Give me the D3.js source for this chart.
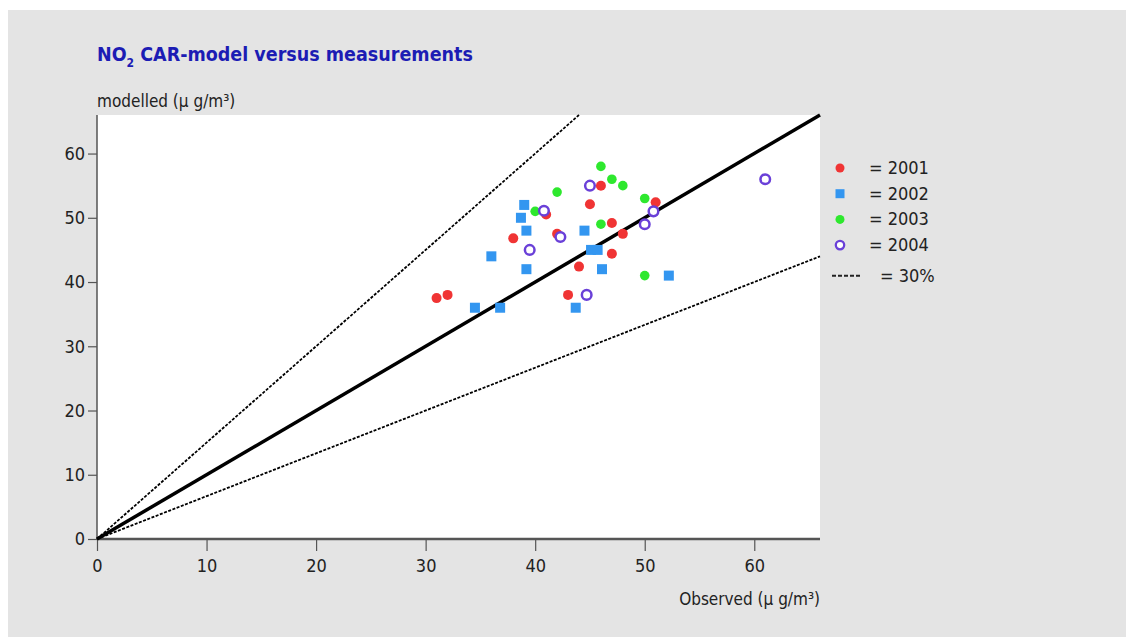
<!DOCTYPE html>
<html>
<head>
<meta charset="utf-8">
<script src="https://cdn.jsdelivr.net/npm/d3@7"></script>
<style>
    body { margin: 0; background: #fff; }
    text { font-family: "DejaVu Sans Condensed", "Liberation Sans", Arial, sans-serif; fill: #222; }
</style>
</head>
<body>
<script>
// observed / modelled values per year
var obs2001 = [46, 45, 51, 41, 47, 42, 48, 38, 47, 44, 31, 32, 43];
var mod2001 = [55, 52.1, 52.4, 50.5, 49.2, 47.5, 47.5, 46.8, 44.4, 42.4, 37.5, 38, 38];

var obs2002 = [39, 38.7, 39.2, 44.5, 36, 45.1, 45.7, 39.2, 46.1, 52.2, 34.5, 36.8, 43.7];
var mod2002 = [52, 50, 48, 48, 44, 45, 45, 42, 42, 41, 36, 36, 36];

var obs2003 = [46, 47, 48, 42, 50, 40, 46, 50];
var mod2003 = [58, 56, 55, 54, 53, 51, 49, 41];

var obs2004 = [45, 50.8, 40.8, 50, 42.3, 39.5, 44.7, 61];
var mod2004 = [55, 51, 51.1, 49, 47, 45, 38, 56];

var years = ["2001", "2002", "2003", "2004"];
var xTicks = [0, 10, 20, 30, 40, 50, 60];
var yTicks = [0, 10, 20, 30, 40, 50, 60];
var axisMax = 66;
var band = 1.5; // the +/-30% lines, drawn as 1.5x and 1/1.5x

window.onload = function() {

    var W = 1126, H = 637;
    var margin = {top: 115, right: 306, bottom: 98, left: 97},
        width = W - margin.left - margin.right,
        height = H - margin.top - margin.bottom;

    var svg = d3.select("body").append("svg")
        .attr("width", W)
        .attr("height", H);

    // grey panel
    svg.append("rect")
        .attr("x", 8).attr("y", 10)
        .attr("width", W - 8).attr("height", H - 10)
        .style("fill", "#e4e4e4");

    // title with subscript
    var title = svg.append("text")
        .attr("x", 97).attr("y", 61)
        .style("font-size", "19.5px")
        .style("font-weight", "bold")
        .style("fill", "#1c1cb4");
    title.append("tspan").text("NO");
    title.append("tspan").attr("dy", 6).style("font-size", "12px").text("2");
    title.append("tspan").attr("dy", -6).text(" CAR-model versus measurements");

    var g = svg.append("g")
        .attr("transform", "translate(" + margin.left + "," + margin.top + ")");

    g.append("rect")
        .attr("width", width).attr("height", height)
        .style("fill", "#fff");

    var x = d3.scaleLinear().domain([0, axisMax]).range([0, width]);
    var y = d3.scaleLinear().domain([0, axisMax]).range([height, 0]);

    // y axis
    var yAxis = g.append("g")
        .call(d3.axisLeft(y).tickValues(yTicks).tickSize(9).tickPadding(3));
    yAxis.select(".domain").attr("d", "M0," + height + "V0").style("stroke", "#555").style("stroke-width", 1.5);
    yAxis.selectAll(".tick line").style("stroke", "#555").style("stroke-width", 1.2);
    yAxis.selectAll("text").style("font-size", "18px").style("font-family", null);

    // x axis
    var xAxis = g.append("g")
        .attr("transform", "translate(0," + height + ")")
        .call(d3.axisBottom(x).tickValues(xTicks).tickSize(12).tickPadding(8));
    xAxis.select(".domain").attr("d", "M0,0H" + width).style("stroke", "#555").style("stroke-width", 2.5);
    xAxis.selectAll(".tick line").style("stroke", "#555").style("stroke-width", 1.2);
    xAxis.selectAll("text").style("font-size", "18px").style("font-family", null);

    // axis titles
    svg.append("text")
        .attr("x", 97).attr("y", 107)
        .style("font-size", "17px")
        .text("modelled (\u00b5 g/m\u00b3)");
    svg.append("text")
        .attr("x", 820).attr("y", 605)
        .attr("text-anchor", "end")
        .style("font-size", "17px")
        .text("Observed (\u00b5 g/m\u00b3)");

    // reference lines
    var refLines = [
        {x2: axisMax / band, y2: axisMax, dash: "3,1.5", w: 1.8},
        {x2: axisMax, y2: axisMax / band, dash: "3,1.5", w: 1.8},
        {x2: axisMax, y2: axisMax, dash: null, w: 3.5}
    ];
    g.selectAll(".ref")
        .data(refLines)
        .enter().append("line")
        .attr("class", "ref")
        .attr("x1", x(0)).attr("y1", y(0))
        .attr("x2", function(d) { return x(d.x2); })
        .attr("y2", function(d) { return y(d.y2); })
        .style("stroke", "#000")
        .style("stroke-width", function(d) { return d.w; })
        .style("stroke-dasharray", function(d) { return d.dash; });

    function pairs(xs, ys) {
        return xs.map(function(v, i) { return {x: v, y: ys[i]}; });
    }

    // 2001 red dots
    g.selectAll(".p2001")
        .data(pairs(obs2001, mod2001))
        .enter().append("circle")
        .attr("class", "p2001")
        .attr("cx", function(d) { return x(d.x); })
        .attr("cy", function(d) { return y(d.y); })
        .attr("r", 5)
        .style("fill", "#f03434");

    // 2002 blue squares
    g.selectAll(".p2002")
        .data(pairs(obs2002, mod2002))
        .enter().append("rect")
        .attr("class", "p2002")
        .attr("x", function(d) { return x(d.x) - 5; })
        .attr("y", function(d) { return y(d.y) - 5; })
        .attr("width", 10).attr("height", 10)
        .style("fill", "#3396f0");

    // 2003 green dots
    g.selectAll(".p2003")
        .data(pairs(obs2003, mod2003))
        .enter().append("circle")
        .attr("class", "p2003")
        .attr("cx", function(d) { return x(d.x); })
        .attr("cy", function(d) { return y(d.y); })
        .attr("r", 4.8)
        .style("fill", "#2ee82e");

    // 2004 open purple rings
    g.selectAll(".p2004")
        .data(pairs(obs2004, mod2004))
        .enter().append("circle")
        .attr("class", "p2004")
        .attr("cx", function(d) { return x(d.x); })
        .attr("cy", function(d) { return y(d.y); })
        .attr("r", 4.8)
        .style("fill", "#fff")
        .style("stroke", "#6a40d8")
        .style("stroke-width", 2.5);

    // legend
    var legend = svg.append("g").attr("transform", "translate(840,168)");
    var rowH = 25.7;
    legend.append("circle").attr("cx", 0).attr("cy", 0).attr("r", 4.5).style("fill", "#f03434");
    legend.append("rect").attr("x", -4.5).attr("y", rowH - 4.5).attr("width", 9).attr("height", 9).style("fill", "#3396f0");
    legend.append("circle").attr("cx", 0).attr("cy", rowH * 2).attr("r", 4.5).style("fill", "#2ee82e");
    legend.append("circle").attr("cx", 0).attr("cy", rowH * 3).attr("r", 4.2).style("fill", "#fff")
        .style("stroke", "#6a40d8").style("stroke-width", 2.3);

    legend.selectAll(".ltxt")
        .data(years)
        .enter().append("text")
        .attr("class", "ltxt")
        .attr("x", 29)
        .attr("y", function(d, i) { return i * rowH + 6; })
        .style("font-size", "18px")
        .text(function(d) { return "= " + d; });

    legend.append("line")
        .attr("x1", -8).attr("x2", 22)
        .attr("y1", rowH * 4 + 5).attr("y2", rowH * 4 + 5)
        .style("stroke", "#222").style("stroke-width", 2)
        .style("stroke-dasharray", "4,2");
    legend.append("text")
        .attr("x", 40).attr("y", rowH * 4 + 11)
        .style("font-size", "18px")
        .text("= 30%");
};
</script>
</body>
</html>
